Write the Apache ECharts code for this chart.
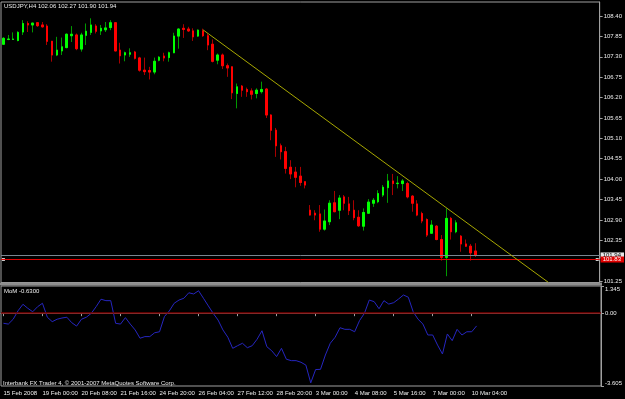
<!DOCTYPE html>
<html>
<head>
<meta charset="utf-8">
<title>USDJPY H4</title>
<script src="https://cdn.jsdelivr.net/npm/echarts@6/dist/echarts.min.js"></script>
<style>
    html, body { margin: 0; padding: 0; background: #000; }
    #usdjpy_chart { width: 625px; height: 399px; }
</style>
</head>
<body>
<div id="usdjpy_chart"></div>
<script>

// Data
// ------------------------------

var symbolName = 'USDJPY,H4';

// x axis tick labels, one every 8 bars (H4)
var tickLabels = [
    '15 Feb 2008', '19 Feb 00:00', '20 Feb 08:00', '21 Feb 16:00', '24 Feb 20:00',
    '26 Feb 04:00', '27 Feb 12:00', '28 Feb 20:00', '3 Mar 00:00', '4 Mar 08:00',
    '5 Mar 16:00', '7 Mar 00:00', '10 Mar 04:00'
];

// candles: [open, close, low, high]
var candles = [
    [107.64, 107.80, 107.62, 107.83], [107.77, 107.78, 107.75, 107.89], [107.77, 107.78, 107.76, 107.96],
    [107.74, 107.96, 107.72, 107.99], [107.97, 108.20, 107.89, 108.29], [108.20, 108.16, 107.97, 108.26],
    [108.16, 108.21, 107.96, 108.22], [108.22, 108.14, 108.11, 108.24], [108.16, 108.11, 108.09, 108.24],
    [108.13, 107.72, 107.62, 108.18], [107.72, 107.35, 107.17, 107.73], [107.35, 107.48, 107.32, 107.84],
    [107.46, 107.57, 107.35, 107.82], [107.55, 107.91, 107.53, 107.93], [107.87, 107.91, 107.70, 108.13],
    [107.89, 107.52, 107.48, 107.93], [107.51, 107.89, 107.44, 107.95], [107.88, 107.99, 107.62, 108.20],
    [107.96, 108.16, 107.89, 108.34], [108.13, 107.99, 107.93, 108.18], [108.00, 108.07, 107.89, 108.16],
    [108.03, 108.08, 107.97, 108.24], [108.09, 108.22, 108.02, 108.29], [108.22, 107.46, 107.45, 108.24],
    [107.48, 107.33, 107.12, 107.68], [107.35, 107.41, 107.18, 107.44], [107.37, 107.41, 107.30, 107.53],
    [107.43, 107.26, 107.23, 107.46], [107.27, 106.94, 106.90, 107.30], [106.94, 106.90, 106.81, 107.28],
    [106.93, 106.89, 106.69, 107.03], [106.89, 107.18, 106.83, 107.28], [107.21, 107.29, 107.18, 107.32],
    [107.32, 107.27, 107.18, 107.41], [107.28, 107.41, 107.17, 107.44], [107.41, 107.86, 107.40, 107.95],
    [107.86, 108.05, 107.52, 108.07], [108.07, 108.04, 107.81, 108.18], [108.05, 108.00, 107.97, 108.11],
    [108.00, 107.84, 107.73, 108.07], [107.86, 108.02, 107.84, 108.04], [108.00, 107.87, 107.84, 108.06],
    [107.87, 107.62, 107.48, 107.93], [107.64, 107.18, 107.15, 107.77], [107.21, 107.35, 107.10, 107.39],
    [107.35, 107.06, 106.97, 107.39], [107.06, 107.00, 106.76, 107.12], [107.03, 106.33, 106.16, 107.04],
    [106.31, 106.49, 105.91, 106.58], [106.51, 106.40, 106.22, 106.54], [106.42, 106.36, 106.22, 106.47],
    [106.38, 106.29, 106.15, 106.45], [106.31, 106.40, 106.18, 106.45], [106.36, 106.42, 106.31, 106.63],
    [106.43, 105.73, 105.65, 106.46], [105.73, 105.32, 105.05, 105.75], [105.32, 104.90, 104.60, 105.38],
    [104.90, 104.74, 104.53, 104.96], [104.74, 104.29, 104.15, 104.87], [104.32, 104.14, 104.00, 104.51],
    [104.19, 104.05, 103.78, 104.33], [104.08, 103.91, 103.82, 104.33], [103.93, 103.84, 103.75, 103.94],
    [103.16, 103.03, 103.02, 103.30], [103.08, 103.03, 102.89, 103.16], [103.06, 102.65, 102.58, 103.30],
    [102.65, 102.87, 102.61, 103.18], [102.85, 103.35, 102.76, 103.43], [103.36, 103.12, 103.11, 103.68],
    [103.16, 103.49, 102.92, 103.57], [103.52, 103.35, 103.16, 103.57], [103.33, 103.15, 103.03, 103.52],
    [103.16, 102.96, 102.89, 103.43], [102.97, 102.74, 102.71, 103.16], [102.73, 103.10, 102.61, 103.21],
    [103.08, 103.38, 103.06, 103.46], [103.35, 103.43, 103.25, 103.49], [103.39, 103.61, 103.35, 103.70],
    [103.57, 103.78, 103.52, 103.84], [103.77, 103.95, 103.36, 104.14], [103.95, 103.88, 103.57, 104.14],
    [103.88, 103.89, 103.75, 104.08], [103.88, 103.95, 103.68, 104.00], [103.88, 103.52, 103.48, 103.93],
    [103.54, 103.35, 103.12, 103.57], [103.33, 103.03, 103.00, 103.43], [103.07, 102.87, 102.81, 103.12],
    [102.91, 102.49, 102.44, 102.94], [102.54, 102.76, 102.53, 102.89], [102.73, 102.37, 102.35, 102.76],
    [102.37, 101.89, 101.80, 102.49], [101.89, 102.94, 101.38, 103.21], [102.94, 102.58, 102.37, 102.98],
    [102.58, 102.82, 102.54, 102.89], [102.46, 102.25, 102.04, 102.49], [102.25, 102.19, 102.17, 102.37],
    [102.19, 102.01, 101.80, 102.25], [102.06, 101.94, 101.90, 102.27]
];

// Momentum indicator values
var mom = [
    -0.50, -0.54, -0.30, 0.12, 0.44, 0.24, 0.07, 0.32, 0.49, -0.20,
    -0.42, -0.30, -0.24, -0.20, -0.47, -0.64, -0.30, -0.20, -0.01, 0.32,
    0.69, 0.62, 0.62, -0.50, -0.54, -0.22, -0.54, -0.83, -1.24, -1.16,
    -1.16, -0.97, -0.92, -0.17, 0.11, 0.49, 0.65, 0.74, 1.01, 0.95,
    1.11, 0.74, 0.36, -0.01, -0.34, -0.83, -1.19, -1.74, -1.61, -1.49,
    -1.71, -1.61, -1.29, -0.87, -1.66, -1.86, -2.15, -1.74, -2.28, -2.35,
    -2.35, -2.43, -2.57, -3.45, -2.79, -2.78, -2.07, -1.49, -1.19, -0.72,
    -0.80, -0.80, -0.92, -0.37, -0.01, 0.65, 0.57, 0.22, 0.62, 0.45,
    0.52, 0.70, 0.90, 0.79, 0.07, -0.30, -0.54, -1.08, -1.08, -1.58,
    -2.02, -1.03, -1.36, -0.80, -1.08, -0.92, -0.92, -0.63
];

var priceLabels = [101.25, 102.35, 102.90, 103.45, 104.00, 104.55, 105.10, 105.65, 106.20, 106.75, 107.30, 107.85, 108.40];
var momLabels = [-3.605, 0, 1.345];
var momLast = '-0.6300';

var bidPrice = 101.94;
var alertLevel = 101.83;
var trendStart = [41, 108.03];
var trendEnd = [111.5, 101.21];


// Setup chart
// ------------------------------

var UsdJpyChart = function() {

    var _chart = function() {
        if (typeof echarts == 'undefined') {
            console.warn('Warning - echarts.min.js is not loaded.');
            return;
        }

        var element = document.getElementById('usdjpy_chart');
        var chart = echarts.init(element, null, {renderer: 'canvas'});

        var font = 'Liberation Sans, Arial, sans-serif';
        var textColor = '#eeeeee';
        var frameColor = '#a0a0a0';

        // Bar slots, including the empty space on the right
        var slotCount = 123;
        var barsPerTick = 8;
        var categories = [];
        for (var i = 0; i < slotCount; i++) {
            var t = i / barsPerTick;
            categories.push(i % barsPerTick === 0 && t < tickLabels.length ? tickLabels[t] : '');
        }

        // Bodies only (drawn bright over the darker wicks)
        var bodies = candles.map(function(c) {
            return [c[0], c[1], Math.min(c[0], c[1]), Math.max(c[0], c[1])];
        });

        var last = candles[candles.length - 1];
        var header = symbolName + ' ' + [last[0], last[3], last[2], last[1]].map(function(v) {
            return v.toFixed(2);
        }).join(' ');

        var smallText = function(extra) {
            var s = {color: textColor, fontSize: 6, fontFamily: font, fontWeight: 'normal'};
            for (var k in extra) s[k] = extra[k];
            return s;
        };

        chart.setOption({
            backgroundColor: '#000000',
            animation: false,

            title: [
                {text: header, left: 4, top: 3, padding: 0, textStyle: smallText({})},
                {text: 'MoM ' + momLast, left: 4, top: 288.5, padding: 0, textStyle: smallText({})},
                {text: 'Interbank FX Trader 4, \u00a9 2001-2007 MetaQuotes Software Corp.', left: 3, top: 380.5, padding: 0, textStyle: smallText({})}
            ],

            grid: [
                {left: 1, right: 23, top: 2, height: 280.5, show: true, borderColor: frameColor, borderWidth: 1},
                {left: 1, right: 23, top: 286, height: 100, show: true, borderColor: frameColor, borderWidth: 1}
            ],

            xAxis: [
                {
                    type: 'category', gridIndex: 0, data: categories,
                    axisLine: {show: false}, axisTick: {show: false}, axisLabel: {show: false}, splitLine: {show: false}
                },
                {
                    type: 'category', gridIndex: 1, data: categories,
                    axisLine: {show: true, lineStyle: {color: frameColor}},
                    axisTick: {
                        show: true, alignWithLabel: true, length: 3, lineStyle: {color: frameColor},
                        interval: function(idx, val) { return val !== ''; }
                    },
                    axisLabel: {
                        show: true, align: 'left', margin: 4, color: textColor, fontSize: 6, fontFamily: font,
                        interval: function(idx, val) { return val !== ''; }
                    },
                    splitLine: {show: false}
                }
            ],

            yAxis: [
                {
                    type: 'value', gridIndex: 0, position: 'right', min: 101.21, max: 108.78, scale: true,
                    axisLine: {show: true, lineStyle: {color: frameColor}},
                    axisTick: {show: true, length: 3, lineStyle: {color: frameColor}, customValues: priceLabels},
                    axisLabel: {
                        color: textColor, fontSize: 6, fontFamily: font, margin: 4,
                        customValues: priceLabels,
                        formatter: function(v) { return v.toFixed(2); }
                    },
                    splitLine: {show: false}
                },
                {
                    type: 'value', gridIndex: 1, position: 'right', min: -3.605, max: 1.345,
                    axisLine: {show: true, lineStyle: {color: frameColor}},
                    axisTick: {show: true, length: 3, lineStyle: {color: frameColor}, customValues: momLabels},
                    axisLabel: {
                        color: textColor, fontSize: 6, fontFamily: font, margin: 4,
                        customValues: momLabels,
                        verticalAlignMinLabel: 'bottom',
                        verticalAlignMaxLabel: 'top',
                        formatter: function(v) { return v === 0 ? '0.00' : String(v); }
                    },
                    splitLine: {show: false}
                }
            ],

            // Panel separator
            graphic: [{
                type: 'rect', silent: true, z: 10,
                shape: {x: 0, y: 282.5, width: 602, height: 3},
                style: {fill: '#8e8e8e'}
            }],

            series: [
                {
                    name: 'USDJPY wicks',
                    type: 'candlestick',
                    xAxisIndex: 0, yAxisIndex: 0,
                    barWidth: 2,
                    data: candles,
                    itemStyle: {
                        color: '#009a00', color0: '#a80000',
                        borderColor: '#009a00', borderColor0: '#a80000', borderWidth: 1
                    },
                    markLine: {
                        silent: true, animation: false, symbol: 'none',
                        data: [
                            {
                                yAxis: bidPrice,
                                lineStyle: {color: '#7a8590', width: 1, type: 'solid'},
                                label: {
                                    show: true, position: 'end', distance: 1, formatter: bidPrice.toFixed(2),
                                    color: '#000', backgroundColor: '#e6e6e6', fontSize: 6, fontFamily: font,
                                    lineHeight: 6, padding: [0, 3, 0, 2]
                                }
                            },
                            {
                                yAxis: alertLevel,
                                lineStyle: {color: '#e00000', width: 1, type: 'solid'},
                                label: {
                                    show: true, position: 'end', distance: 1, formatter: alertLevel.toFixed(2),
                                    color: '#fff', backgroundColor: '#e00000', fontSize: 6, fontFamily: font,
                                    lineHeight: 6, padding: [0, 3, 0, 2]
                                }
                            },
                            [
                                {coord: trendStart, lineStyle: {color: '#a8a800', width: 1, type: 'solid'}, label: {show: false}},
                                {coord: trendEnd}
                            ]
                        ]
                    }
                },
                {
                    name: 'USDJPY',
                    type: 'candlestick',
                    xAxisIndex: 0, yAxisIndex: 0,
                    barWidth: 2,
                    barGap: '-100%',
                    data: bodies,
                    itemStyle: {
                        color: '#00ff00', color0: '#ff0000',
                        borderColor: '#00ff00', borderColor0: '#ff0000', borderWidth: 1
                    }
                },
                {
                    // selection handles on the horizontal line
                    type: 'scatter',
                    xAxisIndex: 0, yAxisIndex: 0,
                    symbol: 'rect', symbolSize: 3, silent: true,
                    itemStyle: {color: '#ffffff'},
                    data: [[0, alertLevel], [slotCount - 1, alertLevel]]
                },
                {
                    name: 'MoM',
                    type: 'line',
                    xAxisIndex: 1, yAxisIndex: 1,
                    data: mom,
                    symbol: 'none',
                    lineStyle: {color: '#2626c0', width: 1},
                    markLine: {
                        silent: true, animation: false, symbol: 'none',
                        data: [{
                            yAxis: 0,
                            lineStyle: {color: '#7a0000', width: 1.5, type: 'solid'},
                            label: {show: false}
                        }]
                    }
                }
            ]
        });

        window.onresize = function() {
            chart.resize();
        };
    };

    return {
        init: function() {
            _chart();
        }
    };
}();

document.addEventListener('DOMContentLoaded', function() {
    UsdJpyChart.init();
});
</script>
</body>
</html>
